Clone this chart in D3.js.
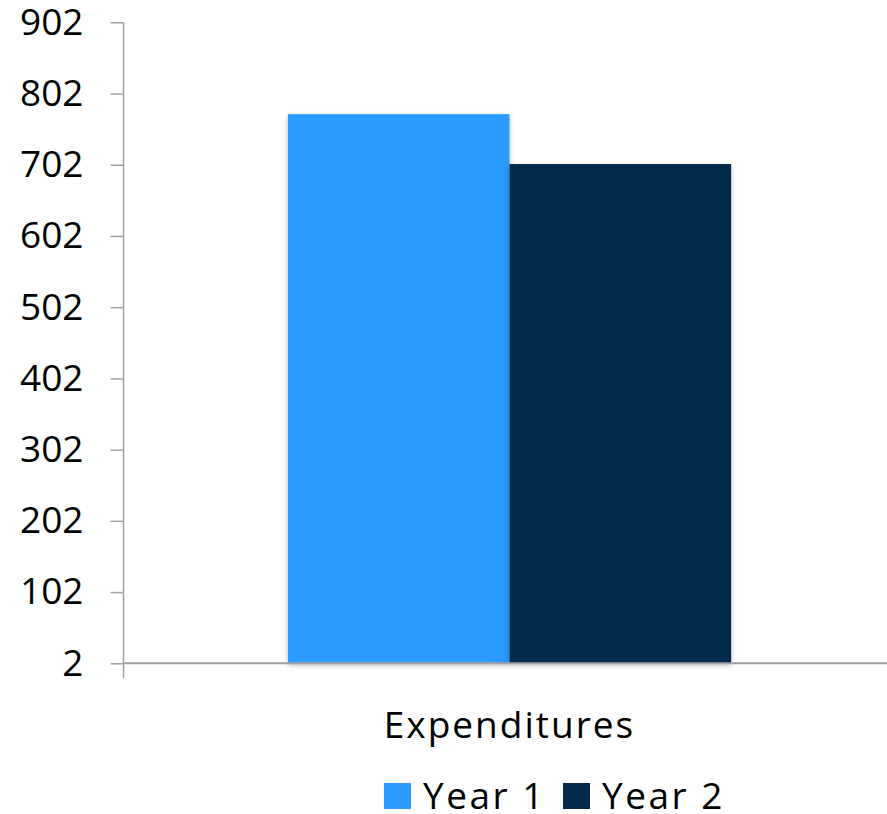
<!DOCTYPE html>
<html>
<head>
<meta charset="utf-8">
<script src="https://cdn.jsdelivr.net/npm/d3@7"></script>
<style>
  html, body { margin: 0; padding: 0; background: #fff; }
  svg { display: block; font-family: "Open Sans", sans-serif; }
</style>
</head>
<body>
<svg id="chart" width="887" height="814"></svg>
<script>
// Chart data
const categories = ["Expenditures"];
const seriesNames = ["Year 1", "Year 2"];
const seriesValues = [[773], [703]];   // one array per series, one value per category
const seriesColors = ["#2C9AFE", "#012A4C"];
const tickValues = [2, 102, 202, 302, 402, 502, 602, 702, 802, 902];

const svg = d3.select("#chart");
const axisColor = "#A0A0A0";
const fontSize = 37;

const y = d3.scaleLinear().domain([2, 902]).range([663.3, 22.3]);
const x0 = d3.scaleBand().domain(categories).range([124, 895]).padding(0.27);
const x1 = d3.scaleBand().domain(seriesNames).range([0, x0.bandwidth()]).padding(0);

// Soft shadow under the bars
const defs = svg.append("defs");
const f = defs.append("filter").attr("id", "shadow")
  .attr("x", "-10%").attr("y", "-10%").attr("width", "120%").attr("height", "120%");
f.append("feDropShadow").attr("dx", 0).attr("dy", 2).attr("stdDeviation", 2.5)
  .attr("flood-color", "#000").attr("flood-opacity", 0.28);

// Bars
const groups = svg.append("g").selectAll("g")
  .data(categories)
  .join("g")
  .attr("transform", d => `translate(${x0(d)},0)`);

groups.selectAll("rect")
  .data((d, ci) => seriesNames.map((s, si) => ({ s, si, v: seriesValues[si][ci] })))
  .join("rect")
  .attr("x", d => x1(d.s))
  .attr("y", d => y(d.v))
  .attr("width", x1.bandwidth())
  .attr("height", d => y(2) - y(d.v))
  .attr("fill", d => seriesColors[d.si])
  .attr("filter", "url(#shadow)");

// Horizontal baseline
svg.append("line")
  .attr("x1", 123.5).attr("x2", 887)
  .attr("y1", y(2)).attr("y2", y(2))
  .attr("stroke", axisColor).attr("stroke-width", 2);

// Y axis
const yAxis = svg.append("g")
  .attr("transform", "translate(123.5,0)")
  .call(d3.axisLeft(y).tickValues(tickValues).tickFormat(d3.format("d"))
    .tickSize(13).tickSizeOuter(0).tickPadding(27));
yAxis.select(".domain").remove();
yAxis.selectAll(".tick line").attr("stroke", axisColor).attr("stroke-width", 1.5);
yAxis.selectAll(".tick text")
  .attr("fill", "#000").style("font-size", fontSize + "px")
  .style("font-family", "'Open Sans', sans-serif");

svg.append("line")
  .attr("x1", 123.5).attr("x2", 123.5)
  .attr("y1", y(902)).attr("y2", 678)
  .attr("stroke", axisColor).attr("stroke-width", 1.5);

// Category label
svg.append("g").selectAll("text")
  .data(categories)
  .join("text")
  .attr("x", d => x0(d) + x0.bandwidth() / 2)
  .attr("y", 738)
  .attr("text-anchor", "middle")
  .style("font-size", fontSize + "px")
  .style("letter-spacing", "2px")
  .attr("fill", "#000")
  .text(d => d);

// Legend
const legendX = [384, 563];
const legend = svg.append("g").selectAll("g")
  .data(seriesNames)
  .join("g")
  .attr("transform", (d, i) => `translate(${legendX[i]},0)`);
legend.append("rect")
  .attr("x", 0).attr("y", 783).attr("width", 27).attr("height", 26)
  .attr("fill", (d, i) => seriesColors[i]);
legend.append("text")
  .attr("x", 39).attr("y", 809)
  .style("font-size", fontSize + "px")
  .style("letter-spacing", "2.5px")
  .attr("fill", "#000")
  .text(d => d);
</script>
</body>
</html>
